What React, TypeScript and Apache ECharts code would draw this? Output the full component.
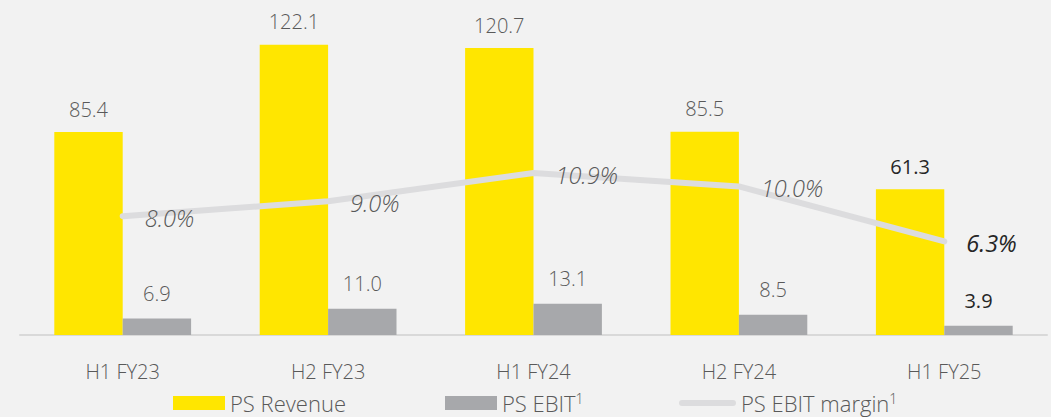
import React, { useEffect, useRef } from "react";
import * as echarts from "echarts";

const categories = ["H1 FY23", "H2 FY23", "H1 FY24", "H2 FY24", "H1 FY25"];
const revenue = [85.4, 122.1, 120.7, 85.5, 61.3];
const ebit = [6.9, 11.0, 13.1, 8.5, 3.9];
const margin = [8.0, 9.0, 10.9, 10.0, 6.3];

const FONT = "'Open Sans', 'Noto Sans', sans-serif";
const TXT = "#595959";
const DARK = "#262626";
const YELLOW = "#FFE600";
const GREY = "#A7A8AB";
const LINE = "#DCDCDE";

export default function App() {
  const ref = useRef<HTMLDivElement>(null);
  useEffect(() => {
    document.body.style.margin = "0";
    document.body.style.background = "#F2F2F2";
    const chart = echarts.init(ref.current!, null, { renderer: "svg" });
    const last = categories.length - 1;
    const mk = (arr: number[]) =>
      arr.map((v, i) =>
        i === last ? { value: v, label: { color: DARK, fontWeight: 400 } } : { value: v }
      );
    const legendText = {
      color: TXT,
      fontFamily: FONT,
      fontSize: 22,
      fontWeight: 300,
      lineHeight: 24,
      rich: {
        sup: { fontSize: 14, verticalAlign: "top", lineHeight: 14, color: TXT, fontFamily: FONT, fontWeight: 300 },
      },
    };
    const fmt = (n: string) => (n === "PS Revenue" ? n : n + "{sup|1}");
    chart.setOption({
      animation: false,
      backgroundColor: "#F2F2F2",
      textStyle: { fontFamily: FONT },
      grid: { left: 20, right: 4, top: 26, bottom: 82, containLabel: false },
      legend: [
        {
          data: [{ name: "PS Revenue", icon: "rect" }],
          left: 171,
          top: 389,
          padding: 2,
          itemWidth: 52,
          itemHeight: 14,
          textStyle: legendText,
          formatter: fmt,
        },
        {
          data: [{ name: "PS EBIT", icon: "rect" }],
          left: 443,
          top: 389,
          padding: 2,
          itemWidth: 52,
          itemHeight: 14,
          textStyle: legendText,
          formatter: fmt,
        },
        {
          data: [
            {
              name: "PS EBIT margin",
              icon: "path://M3,0 L54,0 A3,3 0 0 1 54,6 L3,6 A3,3 0 0 1 3,0 Z",
              itemStyle: { color: LINE, opacity: 1 },
            },
          ],
          left: 677,
          top: 389,
          padding: 2,
          itemWidth: 57,
          itemHeight: 6,
          textStyle: legendText,
          formatter: fmt,
        },
      ],
      xAxis: {
        type: "category",
        data: categories,
        axisLine: { show: true, lineStyle: { color: "#D9D9D9", width: 2 } },
        axisTick: { show: false },
        axisLabel: { color: TXT, fontSize: 20, fontWeight: 300, margin: 26, fontFamily: FONT },
      },
      yAxis: [
        { type: "value", min: 0, max: 130, show: false, splitLine: { show: false } },
        { type: "value", min: 0, max: 20.8, show: false, splitLine: { show: false } },
      ],
      series: [
        {
          name: "PS Revenue",
          type: "bar",
          data: mk(revenue),
          barWidth: "33.3%",
          barGap: "0%",
          itemStyle: { color: YELLOW },
          label: {
            show: true,
            position: "top",
            distance: 13,
            color: TXT,
            fontSize: 20,
            fontWeight: 300,
            fontFamily: FONT,
            formatter: (p: any) => Number(p.value).toFixed(1),
          },
        },
        {
          name: "PS EBIT",
          type: "bar",
          data: mk(ebit),
          barWidth: "33.3%",
          barGap: "0%",
          itemStyle: { color: GREY },
          label: {
            show: true,
            position: "top",
            distance: 15,
            color: TXT,
            fontSize: 20,
            fontWeight: 300,
            fontFamily: FONT,
            formatter: (p: any) => Number(p.value).toFixed(1),
          },
        },
        {
          name: "PS EBIT margin",
          type: "line",
          yAxisIndex: 1,
          data: mk(margin),
          symbol: "circle",
          symbolSize: 2,
          showSymbol: true,
          z: 5,
          lineStyle: { color: LINE, width: 6, cap: "round", join: "round" },
          itemStyle: { color: "rgba(220,220,222,0)", borderWidth: 0 },
          label: {
            show: true,
            position: "right",
            distance: 21,
            offset: [0, 2],
            color: TXT,
            fontSize: 23.5,
            fontWeight: 300,
            fontStyle: "italic",
            fontFamily: FONT,
            formatter: (p: any) => Number(p.value).toFixed(1) + "%",
          },
        },
      ],
    });
    return () => chart.dispose();
  }, []);
  return <div ref={ref} style={{ width: 1051, height: 417 }} />;
}
